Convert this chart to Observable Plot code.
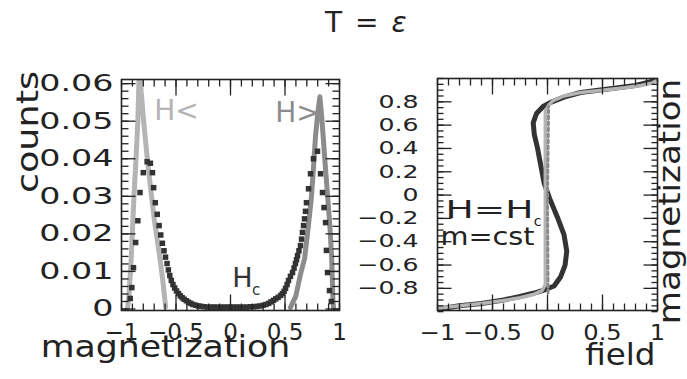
<!DOCTYPE html>
<html>
<head>
<meta charset="utf-8">
<script src="https://cdn.jsdelivr.net/npm/d3@7"></script>
<script src="https://cdn.jsdelivr.net/npm/@observablehq/plot@0.6"></script>
<style>
  body { margin: 0; background: #fff; }
  #wrap { position: relative; width: 687px; height: 379px; overflow: hidden; background: #fff; font-family: "DejaVu Sans", sans-serif; color: #222; }
  #title { position: absolute; left: 325px; top: 9px; font-size: 28px; line-height: 28px; word-spacing: 4px; white-space: nowrap; }
  #title i { font-style: italic; }
  .panel { position: absolute; top: 45px; height: 334px; }
  #left { left: 0; width: 350px; }
  #right { left: 350px; width: 337px; }
</style>
</head>
<body>
<div id="wrap">
  <div id="title">T = <i>ε</i></div>
  <div id="left" class="panel"></div>
  <div id="right" class="panel"></div>
</div>
<script>
// ---- left panel: distribution of the magnetization ----
const hLessMag    = [-0.945, -0.93, -0.91, -0.895, -0.88, -0.865, -0.85, -0.835, -0.82, -0.8, -0.78, -0.76, -0.74, -0.72, -0.7, -0.67, -0.64, -0.615, -0.595];
const hLessCounts = [0, 0.004, 0.014, 0.024, 0.033, 0.041, 0.05, 0.066, 0.058, 0.051, 0.045, 0.039, 0.034, 0.029, 0.024, 0.018, 0.012, 0.006, 0.0005];

const hMoreMag    = [0.55, 0.6, 0.64, 0.68, 0.71, 0.74, 0.76, 0.78, 0.8, 0.82, 0.84, 0.855, 0.87, 0.887, 0.91, 0.928, 0.94, 0.946];
const hMoreCounts = [0.0004, 0.0035, 0.009, 0.0135, 0.021, 0.029, 0.037, 0.046, 0.052, 0.0565, 0.05, 0.044, 0.038, 0.0315, 0.0228, 0.0138, 0.0023, 0];

const hcMag = [-0.92, -0.905, -0.89, -0.87, -0.85, -0.83, -0.8, -0.765, -0.735, -0.716, -0.705, -0.69, -0.672, -0.655, -0.64, -0.625, -0.61, -0.596, -0.582, -0.57, -0.557, -0.543, -0.528, -0.512, -0.495, -0.477, -0.46, -0.443, -0.425, -0.405, -0.385, -0.365, -0.345, -0.32, -0.295, -0.27, -0.24, -0.21, -0.18, -0.15, -0.12, -0.09, -0.06, -0.03, 0, 0.03, 0.06, 0.09, 0.12, 0.15, 0.18, 0.21, 0.24, 0.27, 0.3, 0.325, 0.35, 0.372, 0.394, 0.415, 0.437, 0.46, 0.477, 0.492, 0.505, 0.519, 0.532, 0.55, 0.569, 0.583, 0.596, 0.606, 0.615, 0.628, 0.642, 0.652, 0.66, 0.67, 0.679, 0.688, 0.697, 0.716, 0.734, 0.761, 0.798, 0.826, 0.844, 0.858, 0.872, 0.88, 0.89, 0.908, 0.925];
const hcCounts = [0.0028, 0.0057, 0.011, 0.0177, 0.0235, 0.031, 0.0363, 0.0392, 0.0388, 0.0363, 0.0323, 0.0283, 0.0252, 0.0222, 0.0197, 0.0175, 0.0155, 0.0138, 0.0121, 0.0104, 0.0089, 0.0076, 0.0065, 0.0056, 0.0048, 0.0041, 0.0035, 0.003, 0.0026, 0.0022, 0.0018, 0.0015, 0.0012, 0.001, 0.0008, 0.0007, 0.0006, 0.0005, 0.0005, 0.0005, 0.0005, 0.0005, 0.0005, 0.0005, 0.0005, 0.0005, 0.0005, 0.0005, 0.0005, 0.0005, 0.0006, 0.0006, 0.0007, 0.0008, 0.001, 0.0012, 0.0015, 0.0019, 0.0023, 0.0027, 0.0031, 0.0036, 0.0041, 0.0047, 0.0055, 0.0065, 0.0076, 0.0087, 0.0097, 0.0109, 0.0121, 0.0131, 0.0142, 0.0155, 0.0169, 0.0186, 0.0204, 0.0222, 0.024, 0.026, 0.0283, 0.032, 0.036, 0.04, 0.042, 0.036, 0.031, 0.027, 0.023, 0.0156, 0.0097, 0.0049, 0.002];

const leftXTicks = [-1, -0.5, 0, 0.5, 1];
const leftYTicks = [0, 0.01, 0.02, 0.03, 0.04, 0.05, 0.06];

const leftNoteText = ["H<", "H>", "H", "c"];
const leftNoteMag  = [-0.495, 0.615, 0.11, 0.234];
const leftNoteCnt  = [0.0528, 0.0523, 0.0081, 0.0049];

// ---- right panel: magnetization against field ----
const loopField = [-1, -0.8, -0.6, -0.4, -0.25, -0.12, -0.02, 0.06, 0.12, 0.16, 0.175, 0.15, 0.09, 0.02, -0.03, -0.06, -0.09, -0.12, -0.13, -0.1, -0.04, 0.04, 0.15, 0.3, 0.55, 0.8, 0.93, 1];
const loopMag   = [-0.98, -0.95, -0.93, -0.9, -0.87, -0.84, -0.81, -0.78, -0.7, -0.6, -0.48, -0.34, -0.19, -0.03, 0.1, 0.25, 0.4, 0.52, 0.62, 0.7, 0.76, 0.8, 0.84, 0.88, 0.91, 0.94, 0.97, 1];

const lightField = [-1, -0.8, -0.6, -0.4, -0.25, -0.12, -0.05, -0.02, -0.02, 0.01, 0.05, 0.15, 0.3, 0.5, 0.7, 0.85, 0.95, 1];
const lightMag   = [-0.97, -0.95, -0.93, -0.905, -0.88, -0.85, -0.82, -0.77, 0.72, 0.77, 0.81, 0.85, 0.88, 0.9, 0.92, 0.94, 0.96, 0.99];

const cstField = [0.005, 0.0, 0.01];
const cstMag   = [-0.84, 0, 0.76];

const rightXTicks = [-1, -0.5, 0, 0.5, 1];
const rightYTicks = [-0.8, -0.6, -0.4, -0.2, 0, 0.2, 0.4, 0.6, 0.8];

const rightNoteText  = ["H=H", "c", "m=cst"];
const rightNoteField = [-0.927, -0.09, -0.973];
const rightNoteMag   = [-0.198, -0.225, -0.43];

// ---- styling ----
const INK = "#222";
const LIGHT = "#b4b4b4";
const MID = "#8c8c8c";
const DARK = "#333";
const FONT = "DejaVu Sans";
const fmt = d3.format("~g");
const steps = (a, b, n) => d3.range(n + 1).map(i => a + (b - a) * i / n);

const LEFT = {
  width: 350, height: 334,
  marginLeft: 121, marginRight: 11, marginTop: 34, marginBottom: 69,
  x: {domain: [-1, 1]},
  y: {domain: [-0.0004, 0.0611]}
};
const RIGHT = {
  width: 337, height: 334,
  marginLeft: 87, marginRight: 30, marginTop: 33, marginBottom: 69,
  x: {domain: [-1, 1]},
  y: {domain: [-0.99, 1.0]}
};

// inward tick combs on all four sides, as short links; lengths given in pixels
function combs(g, xs, ys, xl, yl) {
  const [x0, x1] = g.x.domain, [y0, y1] = g.y.domain;
  const fw = g.width - g.marginLeft - g.marginRight;
  const fh = g.height - g.marginTop - g.marginBottom;
  const ux = (x1 - x0) / fw, uy = (y1 - y0) / fh;
  const segs = [
    ...xs.map(x => [x, y0, x, y0 + xl * uy]),
    ...xs.map(x => [x, y1, x, y1 - xl * uy]),
    ...ys.map(y => [x0, y, x0 + yl * ux, y]),
    ...ys.map(y => [x1, y, x1 - yl * ux, y])
  ];
  return Plot.link(segs, {x1: d => d[0], y1: d => d[1], x2: d => d[2], y2: d => d[3], stroke: INK, strokeWidth: 1.3});
}

function stretch(nodes, sx) {
  for (const t of nodes) t.setAttribute("transform", (t.getAttribute("transform") || "") + ` scale(${sx},1)`);
}
function textsOf(svg, str) {
  return [...svg.querySelectorAll("text")].filter(t => t.textContent === str);
}

const style = {fontFamily: FONT, color: INK, background: "white", overflow: "visible"};

const left = Plot.plot({
  ...LEFT,
  style,
  marks: [
    Plot.line(hLessMag.map((m, i) => [m, hLessCounts[i]]), {x: d => d[0], y: d => d[1], stroke: LIGHT, strokeWidth: 5, clip: true}),
    Plot.line(hMoreMag.map((m, i) => [m, hMoreCounts[i]]), {x: d => d[0], y: d => d[1], stroke: MID, strokeWidth: 5, clip: true}),
    Plot.dot(hcMag.map((m, i) => [m, hcCounts[i]]), {x: d => d[0], y: d => d[1], symbol: "square", r: 3.1, fill: DARK, stroke: null}),
    combs(LEFT, steps(-1, 1, 20), steps(0, 0.06, 30), 7, 7),
    combs(LEFT, [-0.5, 0, 0.5], leftYTicks, 16, 14),
    Plot.frame({stroke: INK, strokeWidth: 1.6}),
    Plot.axisX({ticks: leftXTicks, tickSize: 0, tickPadding: 13, tickFormat: fmt, label: null, fontSize: 23}),
    Plot.axisY({ticks: leftYTicks, tickSize: 0, tickPadding: 8, tickFormat: fmt, label: null, fontSize: 23}),
    Plot.text([0], {x: () => leftNoteMag[0], y: () => leftNoteCnt[0], text: () => leftNoteText[0], fill: LIGHT, fontSize: 28, textAnchor: "middle", lineAnchor: "middle"}),
    Plot.text([1], {x: () => leftNoteMag[1], y: () => leftNoteCnt[1], text: () => leftNoteText[1], fill: MID, fontSize: 28, textAnchor: "middle", lineAnchor: "middle"}),
    Plot.text([2], {x: () => leftNoteMag[2], y: () => leftNoteCnt[2], text: () => leftNoteText[2], fill: DARK, fontSize: 27, textAnchor: "middle", lineAnchor: "middle"}),
    Plot.text([3], {x: () => leftNoteMag[3], y: () => leftNoteCnt[3], text: () => leftNoteText[3], fill: DARK, fontSize: 15, textAnchor: "middle", lineAnchor: "middle"}),
    Plot.text(["magnetization"], {frameAnchor: "bottom", dx: -65, dy: 46, textAnchor: "middle", lineAnchor: "bottom", fontSize: 31, fill: INK}),
    Plot.text(["counts"], {frameAnchor: "left", dx: -84, dy: -63, rotate: -90, textAnchor: "middle", lineAnchor: "bottom", fontSize: 31, fill: INK})
  ]
});
stretch(left.querySelectorAll('g[aria-label="y-axis tick label"] text'), 1.45);
stretch(textsOf(left, "magnetization"), 1.12);
stretch(textsOf(left, "counts"), 1.18);
document.getElementById("left").append(left);

const right = Plot.plot({
  ...RIGHT,
  style,
  marks: [
    Plot.line(loopField.map((f, i) => [f, loopMag[i]]), {x: d => d[0], y: d => d[1], stroke: DARK, strokeWidth: 5, strokeLinejoin: "round", clip: true}),
    Plot.line(lightField.map((f, i) => [f, lightMag[i]]), {x: d => d[0], y: d => d[1], stroke: LIGHT, strokeWidth: 3.5, strokeLinejoin: "round", clip: true}),
    Plot.line(cstField.map((f, i) => [f, cstMag[i]]), {x: d => d[0], y: d => d[1], stroke: MID, strokeWidth: 3, strokeDasharray: "3,3", clip: true}),
    combs(RIGHT, steps(-1, 1, 20), steps(-1, 1, 40), 7, 6),
    combs(RIGHT, [-0.5, 0, 0.5], rightYTicks, 16, 14),
    Plot.frame({stroke: INK, strokeWidth: 1.6}),
    Plot.axisX({ticks: rightXTicks, tickSize: 0, tickPadding: 15, tickFormat: fmt, label: null, fontSize: 21}),
    Plot.axisY({ticks: rightYTicks, tickSize: 0, tickPadding: 19, tickFormat: fmt, label: null, fontSize: 18}),
    Plot.text([0], {x: () => rightNoteField[0], y: () => rightNoteMag[0], text: () => rightNoteText[0], fill: INK, fontSize: 25, textAnchor: "start", lineAnchor: "bottom"}),
    Plot.text([1], {x: () => rightNoteField[1], y: () => rightNoteMag[1], text: () => rightNoteText[1], fill: INK, fontSize: 14, textAnchor: "middle", lineAnchor: "middle"}),
    Plot.text([2], {x: () => rightNoteField[2], y: () => rightNoteMag[2], text: () => rightNoteText[2], fill: INK, fontSize: 25, textAnchor: "start", lineAnchor: "bottom"}),
    Plot.text(["field"], {frameAnchor: "bottom-right", dx: -2, dy: 54, textAnchor: "end", lineAnchor: "bottom", fontSize: 31, fill: INK}),
    Plot.text(["magnetization"], {frameAnchor: "right", dx: 22, dy: 7, rotate: -90, textAnchor: "middle", lineAnchor: "bottom", fontSize: 31, fill: INK})
  ]
});
stretch(right.querySelectorAll('g[aria-label="y-axis tick label"] text'), 1.4);
stretch(right.querySelectorAll('g[aria-label="x-axis tick label"] text'), 1.15);
stretch(textsOf(right, "H=H"), 1.5);
stretch(textsOf(right, "m=cst"), 1.15);
stretch(textsOf(right, "field"), 1.05);
stretch(textsOf(right, "magnetization"), 1.1);
document.getElementById("right").append(right);
</script>
</body>
</html>
